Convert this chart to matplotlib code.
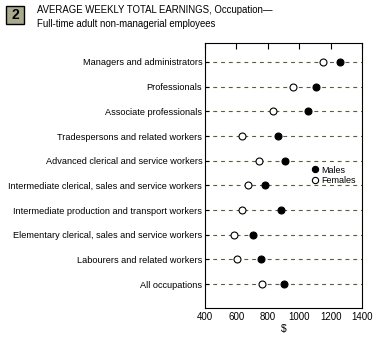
import matplotlib
matplotlib.use("Agg")
import matplotlib.pyplot as plt
from matplotlib.patches import Rectangle

plt.rcParams['font.family'] = ['Liberation Sans', 'DejaVu Sans']

categories = [
    "Managers and administrators",
    "Professionals",
    "Associate professionals",
    "Tradespersons and related workers",
    "Advanced clerical and service workers",
    "Intermediate clerical, sales and service workers",
    "Intermediate production and transport workers",
    "Elementary clerical, sales and service workers",
    "Labourers and related workers",
    "All occupations",
]
males = [1260, 1105, 1054, 863, 910, 782, 886, 704, 757, 905]
females = [1154, 958, 831, 633, 742, 672, 636, 583, 602, 763]
xticks = [400, 600, 800, 1000, 1200, 1400]

fig = plt.figure(figsize=(3.78, 3.4), dpi=100)
ax = fig.add_axes([205/378, 1-308/340, 157/378, 265/340])

ypos = list(range(len(categories)))
for y in ypos:
    ax.axhline(y, color='#5c5c3c', lw=0.8, ls=(0, (3.5, 3.5)), zorder=1)

ax.plot(males, ypos, 'o', ms=5, mfc='black', mec='black', mew=0.8, ls='none', label='Males', zorder=3)
ax.plot(females, ypos, 'o', ms=5, mfc='white', mec='black', mew=0.8, ls='none', label='Females', zorder=3)

ax.set_xlim(400, 1400)
ax.set_ylim(9.97, -0.77)
ax.set_xticks(xticks)
ax.set_xticklabels([str(t) for t in xticks], fontsize=7)
ax.set_yticks(ypos)
ax.set_yticklabels(categories, fontsize=6.6)
ax.tick_params(axis='y', direction='in', length=3, width=0.8, pad=2)
ax.tick_params(axis='x', top=True, bottom=False, direction='in', length=4, width=0.8, pad=3)
ax.set_xlabel('$', fontsize=7.5, labelpad=1)
for s in ax.spines.values():
    s.set_linewidth(0.8)

leg = ax.legend(loc='upper left', bbox_to_anchor=(101/157, (308-161)/265), frameon=False,
                fontsize=6.5, handletextpad=0.15, labelspacing=0.15, borderpad=0,
                handlelength=1.0, markerscale=0.9)

# title block
fig.patches.append(Rectangle((6/378, 1-24/340), 18/378, 18/340, transform=fig.transFigure,
                             facecolor='#a9a98f', edgecolor='black', lw=1.0))
fig.text(15/378, 1-15/340, '2', ha='center', va='center', fontsize=10, fontweight='bold')
fig.text(37/378, 1-10/340, 'AVERAGE WEEKLY TOTAL EARNINGS, Occupation\u2014', fontsize=6.9, va='center')
fig.text(37/378, 1-24/340, 'Full-time adult non-managerial employees', fontsize=6.9, va='center')

fig.savefig('out.png', dpi=100)
